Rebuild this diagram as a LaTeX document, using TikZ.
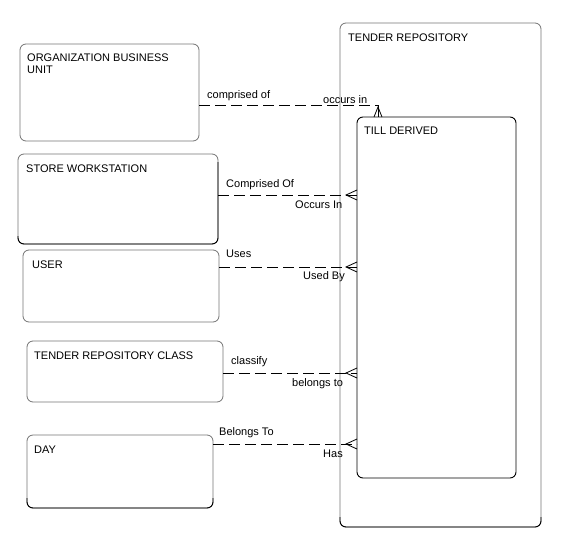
\documentclass[tikz,border=0pt]{standalone}
\usepackage{fontspec}
\setmainfont{Liberation Sans}
\begin{document}
\begin{tikzpicture}[x=1pt,y=-1pt,
  ent/.style={draw=black!55, line width=0.8pt, rounded corners=6pt,
    inner sep=0pt, outer sep=0pt, rectangle},
  tilbox/.style={draw=black, line width=0.9pt, rounded corners=6pt,
    inner sep=0pt, outer sep=0pt, rectangle},
  edge/.style={draw=black, line width=0.9pt, rounded corners=6pt},
  txt/.style={anchor=base west, inner sep=0pt, font=\fontsize{11}{13}\selectfont},
  rel/.style={draw=black, line width=0.9pt, dash pattern=on 11pt off 5pt},
  crow/.style={draw=black, line width=0.8pt}
]
\useasboundingbox (0,0) rectangle (562,541);

% entity boxes
\node[ent, minimum width=179pt, minimum height=97pt] (obu) at (109.5,92.5) {};
\node[ent, minimum width=200pt, minimum height=90pt] (sw) at (118,199) {};
\node[ent, minimum width=196pt, minimum height=72pt] (user) at (121,286) {};
\node[ent, minimum width=196pt, minimum height=61pt] (trc) at (125,371.5) {};
\node[ent, minimum width=186pt, minimum height=73pt] (day) at (120,471.5) {};
\node[ent, minimum width=201pt, minimum height=504pt] (tr) at (440.5,275) {};
\node[tilbox, minimum width=159pt, minimum height=361pt] (till) at (436.5,297.5) {};

% darker edges
\draw[edge] (sw.north east) ++(0,8) |- (sw.south west) -- ++(0,-8);
\draw[edge] (day.south west) ++(0,-10) |- (day.south east) -- ++(0,-10);
\draw[edge] (tr.south west) ++(0,-10) |- (tr.south east) -- ++(0,-10);

% entity titles
\node[txt] (tobu1) at (27,61) {ORGANIZATION BUSINESS};
\node[txt] (tobu2) at (27,73) {UNIT};
\node[txt] (tsw) at (26,172) {STORE WORKSTATION};
\node[txt] (tuser) at (32,268) {USER};
\node[txt] (ttrc) at (34,359) {TENDER REPOSITORY CLASS};
\node[txt] (tday) at (34,453) {DAY};
\node[txt] (ttr) at (348,41) {TENDER REPOSITORY};
\node[txt] (ttill) at (364,134) {TILL DERIVED};

% relationship 1: OBU -> TILL DERIVED (top)
\coordinate (c1) at (378,105);
\draw[rel] (obu.east |- c1) -- (c1);
\draw[crow] (c1) -- (till.north -| c1);
\draw[crow] (374,117) -- (378,107) -- (382,117);
\node[txt] (l1a) at (207,98) {comprised of};
\node[txt] (l1b) at (323,103) {occurs in};

% relationship 2: SW
\draw[rel] (sw.east |- 0,195) -- (till.west |- 0,195);
\draw[crow] (357,190) -- (346,195) -- (357,200);
\node[txt] (l2a) at (226,187) {Comprised Of};
\node[txt] (l2b) at (295,208) {Occurs In};

% relationship 3: USER
\draw[rel] (user.east |- 0,267) -- (till.west |- 0,267);
\draw[crow] (357,262) -- (346,267) -- (357,272);
\node[txt] (l3a) at (226,257) {Uses};
\node[txt] (l3b) at (303,279) {Used By};

% relationship 4: TRC
\draw[rel] (trc.east |- 0,373) -- (till.west |- 0,373);
\draw[crow] (357,368) -- (346,373) -- (357,378);
\node[txt] (l4a) at (231,364) {classify};
\node[txt] (l4b) at (292,386) {belongs to};

% relationship 5: DAY
\draw[rel] (day.east |- 0,444) -- (till.west |- 0,444);
\draw[crow] (357,439) -- (346,444) -- (357,449);
\node[txt] (l5a) at (219,435) {Belongs To};
\node[txt] (l5b) at (323,457) {Has};
\end{tikzpicture}
\end{document}
